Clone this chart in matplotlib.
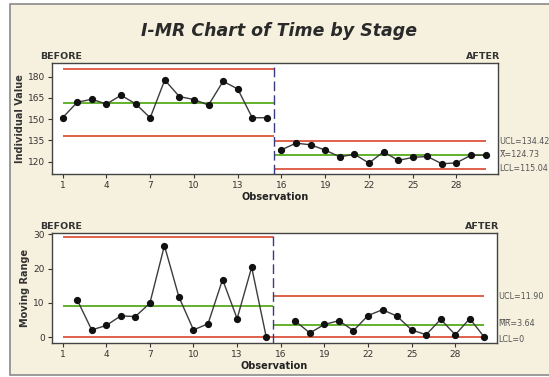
import numpy as np
import matplotlib.pyplot as plt
from matplotlib.patches import Rectangle

# individual values
obs_before = np.arange(1, 16)
time_before = [151.1, 162.0, 164.1, 160.7, 166.9, 160.9, 151.0, 177.7,
               166.0, 163.9, 160.0, 176.8, 171.4, 151.0, 151.1]
obs_after = np.arange(16, 31)
time_after = [128.4, 133.1, 131.9, 128.2, 123.4, 125.3, 119.0, 127.0,
              120.9, 123.0, 123.7, 118.5, 119.2, 124.6, 124.6]

# control limits (UCL, center, LCL)
i_limits_before = [185.7, 161.8, 137.9]
i_limits_after = [134.42, 124.73, 115.04]
mr_limits_before = [29.3, 8.97, 0.0]
mr_limits_after = [11.90, 3.64, 0.0]

xticks = [1, 4, 7, 10, 13, 16, 19, 22, 25, 28]
i_yticks = [120, 135, 150, 165, 180]
mr_yticks = [0, 10, 20, 30]

BG = '#f6f1de'
RED = '#d9472b'
GREEN = '#62b02c'
SPLIT = 15.5


def draw_stage(ax, x, y, limits, x0, x1):
    ucl, cl, lcl = limits
    ax.hlines([ucl, lcl], x0, x1, color=RED, lw=1.2, zorder=2)
    ax.hlines(cl, x0, x1, color=GREEN, lw=1.4, zorder=2)
    ax.plot(x, y, color='#3c3c3c', lw=1.0, marker='o', ms=4.2,
            mfc='#111111', mec='#111111', zorder=3)


def style_axes(ax, ylabel, yticks, ylim):
    ax.set_xlim(0.25, 30.85)
    ax.set_ylim(*ylim)
    ax.set_xticks(xticks)
    ax.set_yticks(yticks)
    ax.tick_params(direction='out', length=3, width=0.8, labelsize=6.5,
                   colors='#333333', pad=2)
    ax.set_facecolor('white')
    for s in ax.spines.values():
        s.set_color('#444444')
        s.set_linewidth(1.0)
    ax.set_ylabel(ylabel, fontsize=7, fontweight='bold', color='#333333',
                  labelpad=2)
    ax.set_xlabel('Observation', fontsize=7, fontweight='bold',
                  color='#222222', labelpad=1)
    ax.axvline(SPLIT, color='#3a3a80', lw=1.0, ls=(0, (7, 3)), zorder=4)


fig = plt.figure(figsize=(5.49, 3.77), dpi=100)
fig.patch.set_facecolor('white')
fig.patches.append(Rectangle((10 / 549, 2 / 377), 545 / 549, 371 / 377,
                             transform=fig.transFigure, facecolor=BG,
                             edgecolor='#8a8a8a', lw=1.2, zorder=-10))

fig.text(0.508, 0.918, 'I-MR Chart of Time by Stage', ha='center', va='center',
         fontsize=12.5, fontweight='bold', style='italic', color='#2a2a2a')

# individual value chart
ax1 = fig.add_axes([0.0942, 0.5377, 0.813, 0.2944])
draw_stage(ax1, obs_before, time_before, i_limits_before, 1, SPLIT)
draw_stage(ax1, obs_after, time_after, i_limits_after, SPLIT, 30)
style_axes(ax1, 'Individual Value', i_yticks, (111.1, 189.5))

# moving range chart
mr_before = np.abs(np.diff(time_before))
mr_after = np.abs(np.diff(time_after))
ax2 = fig.add_axes([0.0942, 0.0894, 0.8105, 0.2918])
draw_stage(ax2, obs_before[1:], mr_before, mr_limits_before, 1, SPLIT)
draw_stage(ax2, obs_after[1:], mr_after, mr_limits_after, SPLIT, 30)
style_axes(ax2, 'Moving Range', mr_yticks, (-1.8, 30.3))

for ax in (ax1, ax2):
    ax.text(-0.025, 1.02, 'BEFORE', transform=ax.transAxes, ha='left',
            va='bottom', fontsize=6.8, fontweight='bold', color='#333333')
    ax.text(1.005, 1.02, 'AFTER', transform=ax.transAxes, ha='right',
            va='bottom', fontsize=6.8, fontweight='bold', color='#333333')

lab = dict(fontsize=5.8, color='#555555', va='center', ha='left',
           clip_on=False)
ucl, cl, lcl = i_limits_after
ax1.text(30.95, ucl, f'UCL={ucl:.2f}', **lab)
ax1.text(30.95, cl, f'X\u0305={cl:.2f}', **lab)
ax1.text(30.95, lcl, f'LCL={lcl:.2f}', **lab)
ucl, cl, lcl = mr_limits_after
ax2.text(30.95, ucl, f'UCL={ucl:.2f}', **lab)
ax2.text(30.95, cl + 0.2, f'M\u0305R\u0305={cl:.2f}', **lab)
ax2.text(30.95, lcl - 0.8, f'LCL={lcl:.0f}', **lab)

fig.savefig('out.png', dpi=100, facecolor=fig.get_facecolor())
